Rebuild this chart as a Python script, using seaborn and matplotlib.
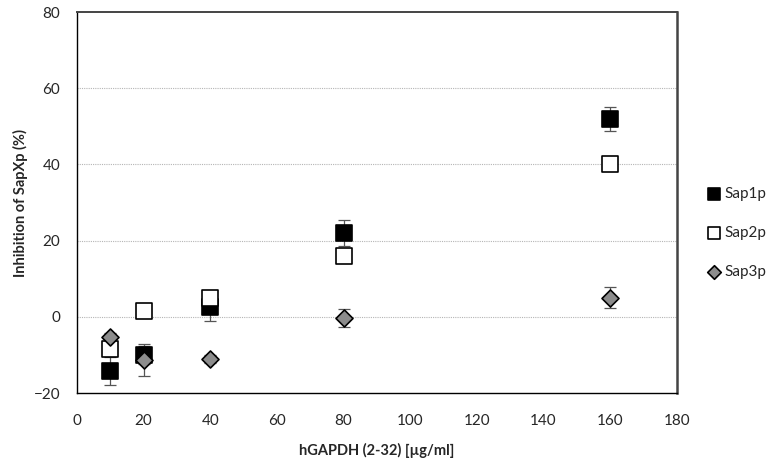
import matplotlib
matplotlib.use("Agg")
import matplotlib.pyplot as plt
import seaborn as sns
import pandas as pd

# hGAPDH (2-32) concentrations, µg/ml
conc = [10, 20, 40, 80, 160]

sap1p = [-14.2, -10.0, 2.5, 22.0, 52.0]
sap1p_err = [3.6, 2.4, 3.5, 3.3, 3.1]

sap2p = [-8.5, 1.5, 5.0, 16.0, 40.2]
sap2p_err = [1.5, 1.0, 1.0, 1.0, 1.0]

sap3p = [-5.3, -11.3, -11.0, -0.3, 5.0]
sap3p_err = [1.0, 4.2, 1.0, 2.4, 2.8]

series = ["Sap1p", "Sap2p", "Sap3p"]

df = pd.concat([
    pd.DataFrame({"conc": conc, "value": sap1p, "err": sap1p_err, "series": "Sap1p"}),
    pd.DataFrame({"conc": conc, "value": sap2p, "err": sap2p_err, "series": "Sap2p"}),
    pd.DataFrame({"conc": conc, "value": sap3p, "err": sap3p_err, "series": "Sap3p"}),
], ignore_index=True)

sns.set_style("white")
plt.rcParams["font.family"] = ["Lato", "DejaVu Sans"]

fig = plt.figure(figsize=(7.71, 4.63), dpi=100)
ax = fig.add_axes([0.0999, 0.151, 0.778, 0.823])

styles = {
    "Sap1p": dict(marker="s", color="black", edgecolor="black", s=120),
    "Sap2p": dict(marker="s", color="white", edgecolor="black", s=120),
    "Sap3p": dict(marker="D", color="#8c8c8c", edgecolor="black", s=75),
}

for name in series:
    sub = df[df["series"] == name]
    ax.errorbar(sub["conc"], sub["value"], yerr=sub["err"], fmt="none",
                ecolor="#555555", elinewidth=0.9, capsize=4, capthick=0.9, zorder=2)
for name in series:
    sub = df[df["series"] == name]
    st = styles[name]
    sns.scatterplot(data=sub, x="conc", y="value", ax=ax, marker=st["marker"],
                    color=st["color"], edgecolor=st["edgecolor"], linewidth=1.2,
                    s=st["s"], label=name, zorder=3)

ax.set_xlim(0, 180)
ax.set_ylim(-20, 80)
ax.set_xticks(range(0, 181, 20))
ax.set_yticks(range(-20, 81, 20))
for y in [0, 20, 40, 60]:
    ax.axhline(y, color="#b5b5b5", linestyle=(0, (1, 1)), linewidth=0.8, zorder=1)

for side in ["left", "bottom", "top", "right"]:
    ax.spines[side].set_color("black")
    ax.spines[side].set_linewidth(1.0)
ax.spines["right"].set_color("#444444")
ax.spines["right"].set_linewidth(1.8)
ax.spines["top"].set_color("#444444")
ax.spines["top"].set_linewidth(1.4)

ax.tick_params(axis="both", which="both", direction="out", length=5, width=0.8,
               color="black", labelsize=11, pad=7)
ax.tick_params(axis="x", pad=10)

ax.set_xlabel("hGAPDH (2-32) [µg/ml]", fontsize=10.5, fontweight="bold", labelpad=11)
ax.set_ylabel("Inhibition of SapXp (%)", fontsize=10.5, fontweight="bold", labelpad=4)

leg = ax.legend(loc="center left", bbox_to_anchor=(1.023, 0.42), frameon=False,
                fontsize=11, labelspacing=1.65, handletextpad=0.1, handlelength=1.2,
                markerscale=0.8)

fig.savefig("out.png", dpi=100)
